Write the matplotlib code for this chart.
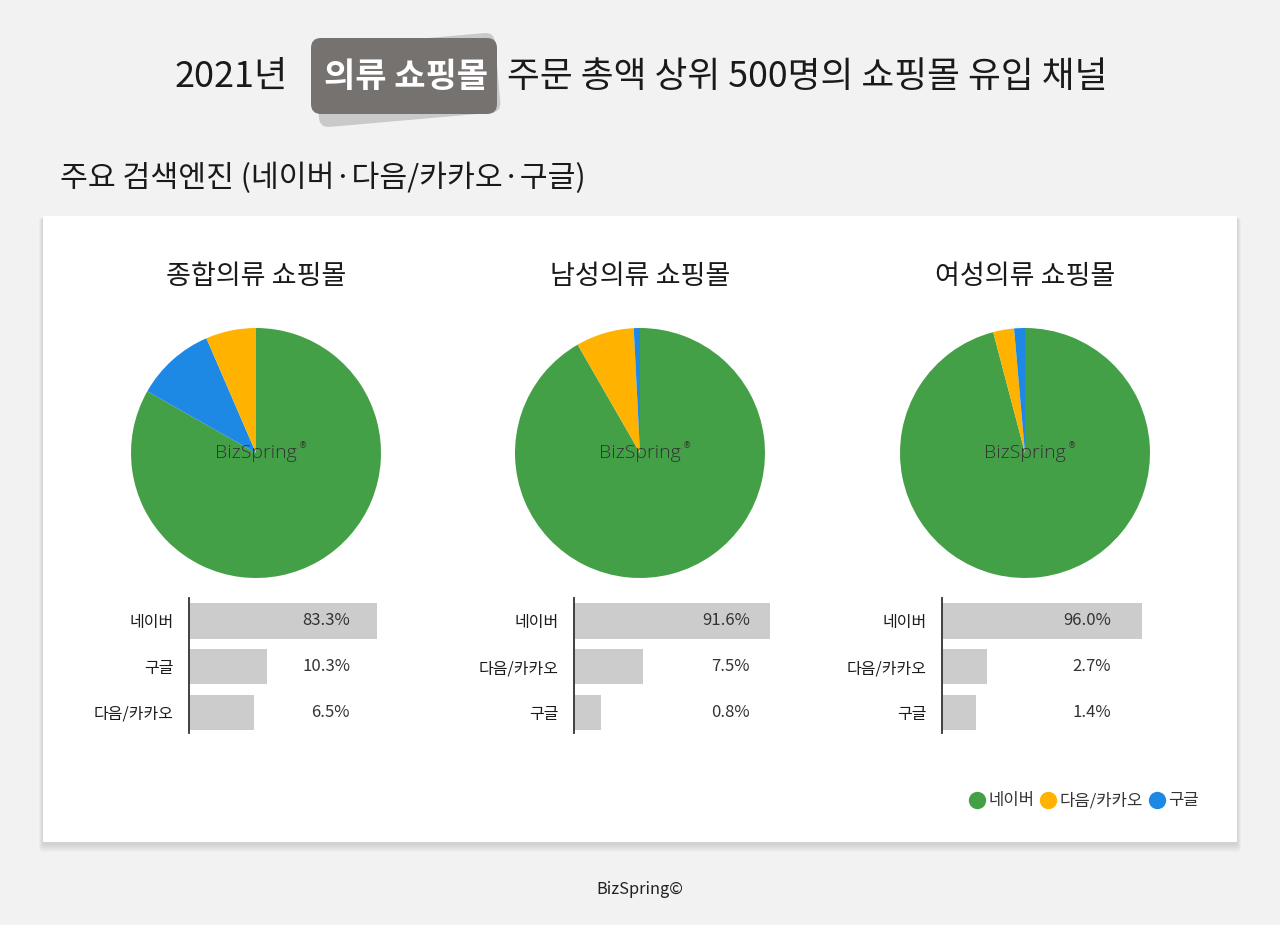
import numpy as np
import matplotlib
matplotlib.use("Agg")
import matplotlib.pyplot as plt
from matplotlib.patches import Rectangle, FancyBboxPatch
from matplotlib.lines import Line2D
import matplotlib.transforms as mtransforms

plt.rcParams['font.family'] = ['Noto Sans CJK KR', 'DejaVu Sans']

# data
panels = ['종합의류 쇼핑몰', '남성의류 쇼핑몰', '여성의류 쇼핑몰']
engines = ['네이버', '다음/카카오', '구글']
naver = [83.3, 91.6, 96.0]
daum = [6.5, 7.5, 2.7]
google = [10.3, 0.8, 1.4]
engine_colors = {'네이버': '#43a047', '다음/카카오': '#ffb300', '구글': '#1e88e5'}

W, H = 1280, 925
fig = plt.figure(figsize=(W / 100, H / 100), dpi=100)
fig.patch.set_facecolor('#f2f2f2')


def px_rect(x0, y0, x1, y1):
    # pixel box (top-left origin) -> figure fraction
    return [x0 / W, 1 - y1 / H, (x1 - x0) / W, (y1 - y0) / H]


# background layer in pixel coords
bg = fig.add_axes([0, 0, 1, 1])
bg.set_xlim(0, W)
bg.set_ylim(H, 0)
bg.axis('off')

# soft card shadow + card
for d in range(1, 9):
    bg.add_patch(FancyBboxPatch((43 - d * 0.5, 216 + 2), 1194 + d * 1.0, 626 + d,
                                boxstyle='round,pad=0,rounding_size=3',
                                facecolor='#000000', alpha=0.016, edgecolor='none', zorder=1))
bg.add_patch(Rectangle((43, 216), 1194, 626, facecolor='white', edgecolor='none', zorder=2))

# title
back = FancyBboxPatch((316, 40), 182, 80, boxstyle='round,pad=0,rounding_size=10',
                      facecolor='#c9c9c9', edgecolor='none', zorder=2)
rot = mtransforms.Affine2D().rotate_deg_around(407, 80, -5) + bg.transData
back.set_transform(rot)
bg.add_patch(back)
bg.add_patch(FancyBboxPatch((311, 38), 186, 76, boxstyle='round,pad=0,rounding_size=10',
                            facecolor='#767270', edgecolor='none', zorder=3))
bg.text(175, 77, '2021년', fontsize=26, color='#1a1a1a', ha='left', va='center', zorder=4)
bg.text(406, 76, '의류 쇼핑몰', fontsize=24.5, color='white', ha='center', va='center',
        fontweight='bold', zorder=4)
bg.text(507, 77, '주문 총액 상위 500명의 쇼핑몰 유입 채널', fontsize=25.7, color='#1a1a1a',
        ha='left', va='center', zorder=4)

bg.text(60, 178, '주요 검색엔진 (네이버·다음/카카오·구글)', fontsize=21.8, color='#1a1a1a',
        ha='left', va='center')

bg.text(640, 890, 'BizSpring©', fontsize=11.8, color='#222222', ha='center', va='center')

pie_cx = [256, 640, 1025]
bar_left = [189, 574, 942]
val_pos = [0.70, 0.765, 0.735]
R = 125
p = 0.42

for k, name in enumerate(panels):
    vals = {'네이버': naver[k], '다음/카카오': daum[k], '구글': google[k]}
    order = sorted(engines, key=lambda e: -vals[e])
    v = [vals[e] for e in order]
    c = [engine_colors[e] for e in order]

    bg.text(pie_cx[k], 277, name, fontsize=19.5, color='#1a1a1a', ha='center', va='center', zorder=4)

    pax = fig.add_axes(px_rect(pie_cx[k] - R, 453 - R, pie_cx[k] + R, 453 + R))
    pax.pie(v, colors=c, startangle=90, counterclock=False, radius=1,
            wedgeprops=dict(linewidth=0))
    pax.set_xlim(-1, 1)
    pax.set_ylim(-1, 1)
    pax.set_aspect('equal')
    pax.text(0, 0, 'BizSpring', fontsize=14, color='#333333', ha='center', va='center',
             family='Open Sans', fontweight='light')
    pax.annotate('®', (0, 0), xytext=(47, 7), textcoords='offset pixels', fontsize=6,
                 color='#333333', ha='center', va='center', family='DejaVu Sans')

    bax = fig.add_axes(px_rect(bar_left[k], 598, bar_left[k] + 230, 733))
    bax.set_facecolor('none')
    bax.barh(range(len(order)), v, height=0.77, color='#cccccc')
    bax.set_xscale('function', functions=(lambda x: np.power(np.clip(x, 0, None), p),
                                          lambda x: np.power(np.clip(x, 0, None), 1 / p)))
    bax.set_xlim(0, 134)
    bax.set_ylim(2.45, -0.5)
    bax.set_yticks(range(len(order)))
    bax.set_yticklabels(order, fontsize=11.5, color='#1a1a1a')
    bax.tick_params(axis='y', length=0, pad=11)
    bax.set_xticks([])
    for s in ['top', 'right', 'bottom']:
        bax.spines[s].set_visible(False)
    bax.spines['left'].set_color('#333333')
    bax.spines['left'].set_linewidth(1.3)
    for i, val in enumerate(v):
        bax.text(val_pos[k], i, f'{val:.1f}%', transform=bax.get_yaxis_transform(),
                 fontsize=12, color='#333333', ha='right', va='center')

handles = [Line2D([], [], marker='o', linestyle='none', markersize=12.5,
                  markerfacecolor=engine_colors[e], markeredgecolor='none') for e in engines]
fig.legend(handles, engines, loc='center right', bbox_to_anchor=(1214 / W, 1 - 801 / H),
           ncol=3, frameon=False, fontsize=12, handletextpad=0.2, columnspacing=0.3,
           labelcolor='#333333', handlelength=1.0)

fig.savefig('out.png', dpi=100, facecolor=fig.get_facecolor())
